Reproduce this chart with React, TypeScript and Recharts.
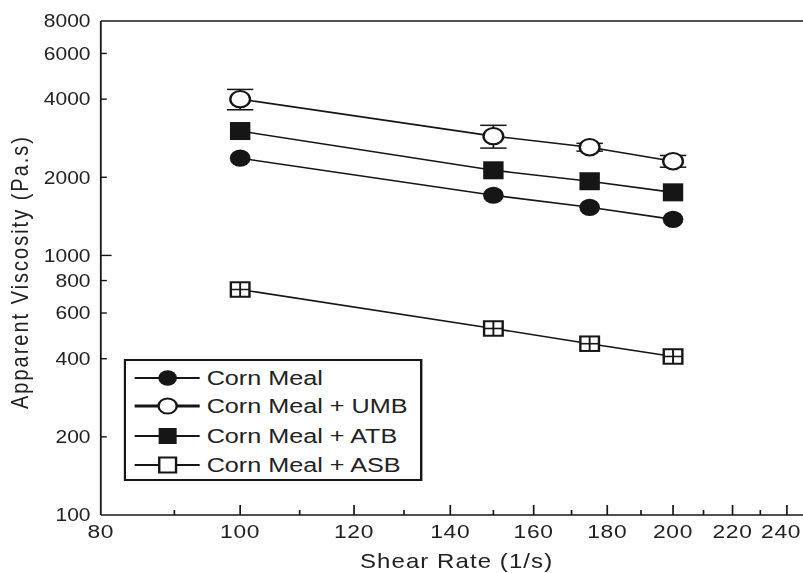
import React from 'react';
import { ComposedChart, Line, XAxis, YAxis, ErrorBar, Legend, ReferenceLine, Label } from 'recharts';

// ---- data ----
const shearRates = [100, 150, 175, 200];
const cornMeal = [2369, 1705, 1532, 1377];
const cornMealUMB = [4000, 2881, 2612, 2307];
const cornMealUMBError = [360, 290, 90, 120];
const cornMealATB = [3014, 2128, 1931, 1750];
const cornMealASB = [739, 523, 457, 408];

const xTicks = [80, 90, 100, 110, 120, 130, 140, 150, 160, 170, 180, 190, 200, 210, 220, 230, 240];
const xLabelTicks = [80, 100, 120, 140, 160, 180, 200, 220, 240];
const yTicks = [100, 200, 400, 600, 800, 1000, 2000, 4000, 6000, 8000];
const seriesNames = ['Corn Meal', 'Corn Meal + UMB', 'Corn Meal + ATB', 'Corn Meal + ASB'];
const xTitle = 'Shear Rate (1/s)';
const yTitle = 'Apparent Viscosity (Pa.s)';

const rows = shearRates.map((x, i) => ({
  x,
  cm: cornMeal[i],
  umb: cornMealUMB[i],
  umbErr: cornMealUMBError[i],
  atb: cornMealATB[i],
  asb: cornMealASB[i],
}));

// ---- layout / style ----
const SX = 1.2; // horizontal stretch of the reference figure
const W = 677;
const H = 573;
const VISIBLE_W = 803 / SX;
const ink = '#161616';
const txt = '#222';
const font = '"Liberation Sans", Arial, Helvetica, sans-serif';

type Kind = 'filledCircle' | 'openCircle' | 'filledSquare' | 'openSquare';
const kinds: Kind[] = ['filledCircle', 'openCircle', 'filledSquare', 'openSquare'];

function Marker({ kind, cx, cy, legend = false }: { kind: Kind; cx: number; cy: number; legend?: boolean }) {
  if (cx == null || cy == null) return null;
  if (kind === 'filledCircle') {
    return <circle cx={cx} cy={cy} r={legend ? 7.8 : 8.6} fill={ink} />;
  }
  if (kind === 'openCircle') {
    return <circle cx={cx} cy={cy} r={legend ? 7.6 : 8.2} fill="#fff" stroke={ink} strokeWidth={2} />;
  }
  if (kind === 'filledSquare') {
    const w = legend ? 15 : 17;
    const h = legend ? 16 : 18;
    return <rect x={cx - w / 2} y={cy - h / 2} width={w} height={h} fill={ink} />;
  }
  const w = legend ? 14 : 15.5;
  const h = legend ? 15 : 14.5;
  return (
    <g>
      <rect x={cx - w / 2} y={cy - h / 2} width={w} height={h} fill="#fff" stroke={ink} strokeWidth={2} />
      {!legend && (
        <g stroke={ink} strokeWidth={1.6}>
          <line x1={cx} x2={cx} y1={cy - h / 2} y2={cy + h / 2} />
          <line x1={cx - w / 2} x2={cx + w / 2} y1={cy} y2={cy} />
        </g>
      )}
    </g>
  );
}

const X_FONT = 19;
const X_SPACING = 0.6;

const XTick = (props: any) => {
  const { x, y, payload } = props;
  const v = payload.value;
  const axisY = y - 8;
  const major = xLabelTicks.includes(v);
  const label = String(v);
  const halfW = (label.length * 0.556 * X_FONT + label.length * X_SPACING) / 2;
  const tx = Math.min(x, VISIBLE_W - halfW - 1.5);
  return (
    <g>
      {v !== 80 && (
        <line x1={x} x2={x} y1={axisY} y2={axisY - (major ? 10 : 5)} stroke={ink} strokeWidth={1.4} />
      )}
      {major && (
        <text x={tx} y={axisY + 23} textAnchor="middle" fontSize={X_FONT} letterSpacing={X_SPACING} fill={txt}>
          {label}
        </text>
      )}
    </g>
  );
};

const YTick = (props: any) => {
  const { x, y, payload } = props;
  const v = payload.value;
  const axisX = x + 8;
  const len = v === 1000 ? 9 : 5;
  return (
    <g>
      {v !== 100 && v !== 8000 && (
        <line x1={axisX} x2={axisX + len} y1={y} y2={y} stroke={ink} strokeWidth={1.4} />
      )}
      <text x={axisX - 8.6} y={y} dy="0.36em" textAnchor="end" fontSize={17.5} fill={txt}>
        {v}
      </text>
    </g>
  );
};

const LegendBox = () => {
  const w = 249;
  const h = 122;
  const rowsY = [19, 47, 77, 106];
  return (
    <svg width={w} height={h} style={{ display: 'block', overflow: 'visible' }}>
      <rect x={1} y={1} width={w - 2} height={h - 2} fill="#fff" stroke={ink} strokeWidth={2} />
      {seriesNames.map((name, i) => (
        <g key={name}>
          <line x1={9.2} x2={63.4} y1={rowsY[i]} y2={rowsY[i]} stroke={ink} strokeWidth={i === 1 ? 3 : 1.8} />
          <Marker kind={kinds[i]} cx={36.7} cy={rowsY[i]} legend />
          <text x={69.2} y={rowsY[i] + 7.5} fontSize={21} fill={txt} fontFamily={font}>
            {name}
          </text>
        </g>
      ))}
    </svg>
  );
};

const dotFor = (kind: Kind, prefix: string) => (p: any) =>
  <Marker key={`${prefix}-${p.index}`} kind={kind} cx={p.cx} cy={p.cy} />;

export default function App() {
  return (
    <div
      style={{
        position: 'absolute',
        left: 0,
        top: 0,
        width: 803,
        height: 573,
        overflow: 'hidden',
        background: '#fff',
        fontFamily: font,
      }}
    >
      <div style={{ width: W, height: H, transform: `scaleX(${SX})`, transformOrigin: '0 0' }}>
        <ComposedChart width={W} height={H} data={rows} margin={{ top: 21, right: 0, bottom: 0, left: 0 }}>
          <XAxis
            dataKey="x"
            type="number"
            scale="log"
            domain={[80, 250]}
            allowDataOverflow
            ticks={xTicks}
            interval={0}
            height={58}
            tickSize={6}
            tickMargin={2}
            tickLine={false}
            axisLine={{ stroke: ink, strokeWidth: 1.5 }}
            tick={<XTick />}
          >
            <Label
              content={(props: any) => {
                const vb = props.viewBox || {};
                const cx = (vb.x ?? 84) + (vb.width ?? 593) / 2;
                return (
                  <text x={cx} y={568} textAnchor="middle" fontSize={20} letterSpacing={0.9} fill={txt}>
                    {xTitle}
                  </text>
                );
              }}
            />
          </XAxis>
          <YAxis
            type="number"
            scale="log"
            domain={[100, 8000]}
            allowDataOverflow
            ticks={yTicks}
            interval={0}
            width={84}
            tickSize={6}
            tickMargin={2}
            tickLine={false}
            axisLine={{ stroke: ink, strokeWidth: 1.5 }}
            tick={<YTick />}
          >
            <Label
              content={() => (
                <text
                  x={23}
                  y={272}
                  transform="rotate(-90 23 272)"
                  textAnchor="middle"
                  fontSize={20}
                  letterSpacing={2}
                  fill={txt}
                >
                  {yTitle}
                </text>
              )}
            />
          </YAxis>
          <ReferenceLine y={8000} stroke={ink} strokeWidth={1.5} ifOverflow="visible" />
          <Line
            dataKey="cm"
            name={seriesNames[0]}
            stroke={ink}
            strokeWidth={1.6}
            isAnimationActive={false}
            dot={dotFor('filledCircle', 'cm')}
            activeDot={false}
          />
          <Line
            dataKey="umb"
            name={seriesNames[1]}
            stroke={ink}
            strokeWidth={1.6}
            isAnimationActive={false}
            dot={dotFor('openCircle', 'umb')}
            activeDot={false}
          >
            <ErrorBar dataKey="umbErr" direction="y" width={11} stroke={ink} strokeWidth={1.5} isAnimationActive={false} />
          </Line>
          <Line
            dataKey="atb"
            name={seriesNames[2]}
            stroke={ink}
            strokeWidth={1.6}
            isAnimationActive={false}
            dot={dotFor('filledSquare', 'atb')}
            activeDot={false}
          />
          <Line
            dataKey="asb"
            name={seriesNames[3]}
            stroke={ink}
            strokeWidth={1.6}
            isAnimationActive={false}
            dot={dotFor('openSquare', 'asb')}
            activeDot={false}
          />
          <Legend
            layout="vertical"
            align="center"
            verticalAlign="middle"
            wrapperStyle={{ left: 103.3, top: 359, width: 249, height: 122, margin: 0, padding: 0 }}
            content={() => <LegendBox />}
          />
        </ComposedChart>
      </div>
    </div>
  );
}
